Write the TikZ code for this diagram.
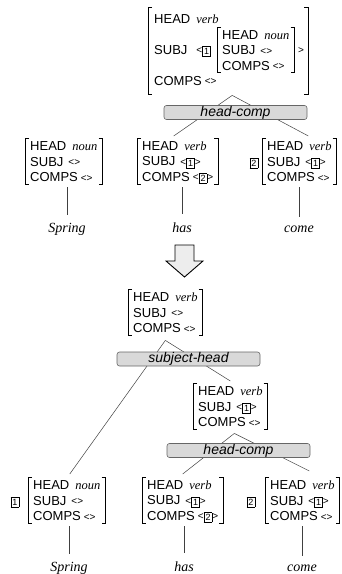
\documentclass[tikz,border=0pt]{standalone}
\usepackage{fontspec}
\setmainfont{Liberation Serif}
\setsansfont{Liberation Sans}

% small list delimiters, structure-sharing tags and AVM rows
\newcommand\chevl{\raisebox{0.5pt}{\fontsize{10}{10}\selectfont<}}
\newcommand\chevr{\raisebox{0.5pt}{\fontsize{10}{10}\selectfont>}}
\newcommand\emptylist{\chevl\chevr}
\newcommand\tagbox[1]{{\setlength\fboxsep{0.6pt}\setlength\fboxrule{0.5pt}%
  \raisebox{-0.4pt}{\fbox{\makebox[6.4pt]{\rule[-0.8pt]{0pt}{8pt}\fontsize{9}{9}\selectfont#1}}}}}
\newcommand\val[1]{\hspace{6pt}{\rmfamily\itshape\fontsize{12.5}{12.5}\selectfont #1}}
\newcommand\avmrows[3]{\rule{0pt}{11.5pt}HEAD\val{#1}\\SUBJ\hspace{5pt}#2\\COMPS\hspace{3pt}#3\rule[-1.5pt]{0pt}{1.5pt}}
\newcommand\brackets[1]{%
  \draw[brk] ([xshift=4pt]#1.north west) -- (#1.north west) -- (#1.south west) -- ([xshift=4pt]#1.south west);
  \draw[brk] ([xshift=-4pt]#1.north east) -- (#1.north east) -- (#1.south east) -- ([xshift=-4pt]#1.south east);}

\tikzset{
  avm/.style={anchor=north west, inner xsep=5pt, inner ysep=0pt, minimum height=46pt,
    align=left, font=\sffamily\fontsize{13}{15.5}\selectfont},
  avmtext/.style={anchor=west, inner sep=0pt, font=\sffamily\fontsize{13}{15.5}\selectfont},
  brk/.style={line width=0.9pt},
  link/.style={draw=black!75, line width=0.5pt},
  rulebox/.style={draw=black!60, fill=black!15, rounded corners=2.5pt, line width=0.6pt,
    minimum width=143pt, minimum height=14pt, inner sep=0pt,
    font=\sffamily\itshape\fontsize{14}{14}\selectfont},
  word/.style={anchor=base, inner sep=3pt, font=\rmfamily\itshape\fontsize{14}{14}\selectfont},
  tagnode/.style={inner sep=0pt, font=\sffamily\fontsize{12}{12}\selectfont},
}

\begin{document}
\begin{tikzpicture}[x=1pt, y=-1pt]
\useasboundingbox (0,0) rectangle (342,574);

% ---------- before: head-comp over "has come" ----------
\node[minimum width=160pt, minimum height=87pt, inner sep=0pt, anchor=north west] (top) at (148,7) {};
\node[avmtext] (topH) at (154,19) {HEAD\val{verb}};
\node[avmtext] (topS) at (154,51) {SUBJ\hspace{9pt}\chevl\tagbox{1}};
\node[avm, minimum height=45pt] (inner) at (217,27) {\avmrows{noun}{\emptylist}{\emptylist}};
\node[avmtext] (topSr) at (298,51) {\chevr};
\node[avmtext] (topC) at (154,81) {COMPS\hspace{3pt}\emptylist};

\node[avm] (spr1) at (25,138) {\avmrows{noun}{\emptylist}{\emptylist}};
\node[avm] (has1) at (137,138) {\avmrows{verb}{\chevl\tagbox{1}\chevr}{\chevl\tagbox{2}\chevr}};
\node[avm] (come1) at (262,138) {\avmrows{verb}{\chevl\tagbox{1}\chevr}{\emptylist}};
\node[tagnode] (t2a) at (254,163) {\tagbox{2}};

\node[word] (w1) at (67,232) {Spring};
\node[word] (w2) at (182,232) {has};
\node[word] (w3) at (299,232) {come};

\coordinate (ap1) at ([xshift=4pt,yshift=-1pt]top.south);
\draw[link] (ap1) -- ([xshift=-4pt,yshift=2pt]has1.north);
\draw[link] (ap1) -- ([xshift=9pt,yshift=2pt]come1.north);
\draw[link, shorten <=3pt, shorten >=5pt] (spr1.south -| w1) -- (w1.north);
\draw[link, shorten <=3pt, shorten >=5pt] (has1.south -| w2) -- (w2.north);
\draw[link, shorten <=3pt, shorten >=5pt] (come1.south -| w3) -- (w3.north);

\node[rulebox] (hc1) at (235.5,112.5) {head-comp};

% ---------- transition arrow ----------
\draw[fill=black!7, line width=0.9pt, line join=miter]
  (175,245) -- (194,245) -- (194,261) -- (203,261) -- (184.5,277) -- (166,261) -- (175,261) -- cycle;

% ---------- after: subject-head over head-comp ----------
\node[avm] (root) at (128,289) {\avmrows{verb}{\emptylist}{\emptylist}};
\node[avm] (vp) at (193,383) {\avmrows{verb}{\chevl\tagbox{1}\chevr}{\emptylist}};
\node[avm] (spr2) at (28,477) {\avmrows{noun}{\emptylist}{\emptylist}};
\node[avm] (has2) at (142,477) {\avmrows{verb}{\chevl\tagbox{1}\chevr}{\chevl\tagbox{2}\chevr}};
\node[avm] (come2) at (265,477) {\avmrows{verb}{\chevl\tagbox{1}\chevr}{\emptylist}};
\node[tagnode] (t1b) at (15,502) {\tagbox{1}};
\node[tagnode] (t2b) at (251,502) {\tagbox{2}};

\node[word] (w4) at (69,571) {Spring};
\node[word] (w5) at (184,571) {has};
\node[word] (w6) at (302,571) {come};

\coordinate (ap2) at ([yshift=-5pt]root.south);
\coordinate (ap3) at ([xshift=4pt,yshift=-4pt]vp.south);
\draw[link] (ap2) -- ([xshift=3pt,yshift=3pt]spr2.north);
\draw[link] (ap2) -- ([yshift=2pt]vp.north);
\draw[link] (ap3) -- ([yshift=3pt]has2.north);
\draw[link] (ap3) -- ([xshift=7pt,yshift=6pt]come2.north);
\draw[link, shorten <=3pt, shorten >=5pt] (spr2.south -| w4) -- (w4.north);
\draw[link, shorten <=3pt, shorten >=5pt] (has2.south -| w5) -- (w5.north);
\draw[link, shorten <=3pt, shorten >=5pt] (come2.south -| w6) -- (w6.north);

\node[rulebox] (sh) at (188.5,359) {subject-head};
\node[rulebox] (hc2) at (238.5,450.5) {head-comp};

% ---------- square brackets round every AVM ----------
\foreach \n in {top,inner,spr1,has1,come1,root,vp,spr2,has2,come2} {\brackets{\n}}
\end{tikzpicture}
\end{document}
